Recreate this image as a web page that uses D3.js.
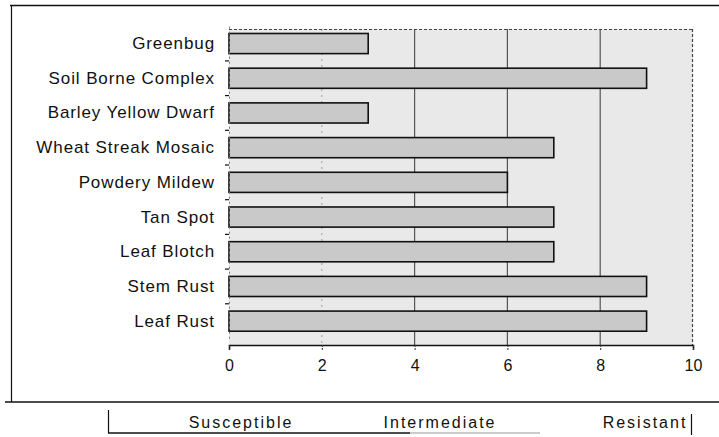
<!DOCTYPE html>
<html><head><meta charset="utf-8">
<script src="https://cdn.jsdelivr.net/npm/d3@7/dist/d3.min.js"></script>
<style>
html,body{margin:0;padding:0;background:#fff;}
svg text{font-family:"Liberation Sans",Arial,sans-serif;fill:#111;}
</style></head><body>
<svg id="c" width="719" height="437"></svg>
<script>
const categories = ["Greenbug","Soil Borne Complex","Barley Yellow Dwarf","Wheat Streak Mosaic","Powdery Mildew","Tan Spot","Leaf Blotch","Stem Rust","Leaf Rust"];
const ratings = [3,9,3,7,6,7,7,9,9];
const xTicks = [0,2,4,6,8,10];
const gridValues = [2,4,6,8];
const scaleLabels = ["Susceptible","Intermediate","Resistant"];

const svg = d3.select("#c");
const plot = {left:229, right:693, top:29, bottom:345};

const x = d3.scaleLinear().domain([0,10]).range([plot.left, plot.right]);
const y = d3.scaleBand().domain(categories).range([26.2, 338.5]).paddingInner(0.42).paddingOuter(0.21);

// outer frame
const frame = svg.append("g").attr("stroke","#111").attr("fill","none");
frame.append("line").attr("x1",10).attr("x2",719).attr("y1",5.5).attr("y2",5.5).attr("stroke-width",1.5);
frame.append("line").attr("x1",11.5).attr("x2",11.5).attr("y1",5).attr("y2",402).attr("stroke-width",1.2);
frame.append("line").attr("x1",5).attr("x2",719).attr("y1",402).attr("y2",402).attr("stroke-width",1.5);

// plot background
svg.append("rect").attr("x",plot.left).attr("y",plot.top)
  .attr("width",plot.right-plot.left).attr("height",plot.bottom-plot.top)
  .attr("fill","#e9e9e9");

// gridlines
svg.append("g").selectAll("line").data(gridValues).join("line")
  .attr("x1",d=>x(d)).attr("x2",d=>x(d))
  .attr("y1",plot.top).attr("y2",plot.bottom)
  .attr("stroke",d=>d===2?"#aaa":"#555")
  .attr("stroke-dasharray",d=>d===2?"2,4":null)
  .attr("stroke-width",1.2);

// plot border top & right (dotted)
svg.append("line").attr("x1",plot.left).attr("x2",plot.right).attr("y1",plot.top+0.5).attr("y2",plot.top+0.5)
  .attr("stroke","#444").attr("stroke-dasharray","3,2").attr("stroke-width",1);
svg.append("line").attr("x1",plot.right-0.5).attr("x2",plot.right-0.5).attr("y1",plot.top).attr("y2",plot.bottom)
  .attr("stroke","#444").attr("stroke-dasharray","3,2").attr("stroke-width",1.2);

// bars
svg.append("g").selectAll("rect").data(categories).join("rect")
  .attr("x",x(0))
  .attr("y",d=>y(d))
  .attr("width",(d,i)=>x(ratings[i])-x(0))
  .attr("height",y.bandwidth())
  .attr("fill","#c9c9c9")
  .attr("stroke","#111")
  .attr("stroke-width",1.6);

// left axis
const yAxis = svg.append("g").attr("transform",`translate(${plot.left},0)`)
  .call(d3.axisLeft(y).tickSize(0).tickPadding(14));
yAxis.select(".domain").attr("stroke","#777").attr("stroke-dasharray","2,3");
yAxis.selectAll("text").attr("font-size","17px").attr("letter-spacing","0.9px")
  .attr("font-family","'Liberation Sans',Arial,sans-serif").attr("fill","#111");
// band boundary ticks
const bounds = categories.slice(1).map(c => y(c) - y.step()*y.paddingInner()/2);
svg.append("g").selectAll("path").data(bounds).join("path")
  .attr("d",d=>`M${plot.left-4},${d}H${plot.left}`)
  .attr("stroke","#111").attr("stroke-width",1.2);

// bottom axis
const xAxis = svg.append("g").attr("transform",`translate(0,${plot.bottom})`)
  .call(d3.axisBottom(x).tickValues(xTicks).tickSize(5).tickPadding(10).tickFormat(d3.format("d")));
xAxis.select(".domain").attr("stroke","#111").attr("stroke-width",1.6);
xAxis.selectAll(".tick line").attr("stroke","#333").attr("stroke-dasharray","2,1");
xAxis.selectAll("text").attr("font-size","16px")
  .attr("font-family","'Liberation Sans',Arial,sans-serif").attr("fill","#111");

// bottom scale legend
const legendX = [241, 440, 645];
const leg = svg.append("g");
leg.append("line").attr("x1",108.5).attr("x2",108.5).attr("y1",410).attr("y2",433).attr("stroke","#111").attr("stroke-width",1.2);
leg.append("line").attr("x1",108).attr("x2",410).attr("y1",433).attr("y2",433).attr("stroke","#111").attr("stroke-width",1.4);
leg.append("line").attr("x1",410).attr("x2",540).attr("y1",433).attr("y2",433).attr("stroke","#999").attr("stroke-width",1);
leg.append("line").attr("x1",691.5).attr("x2",691.5).attr("y1",414).attr("y2",435).attr("stroke","#111").attr("stroke-width",1.2);
leg.selectAll("text").data(scaleLabels).join("text")
  .attr("x",(d,i)=>legendX[i]).attr("y",428)
  .attr("text-anchor","middle").attr("font-size","16px").attr("letter-spacing","2px")
  .text(d=>d);
</script>
</body></html>
